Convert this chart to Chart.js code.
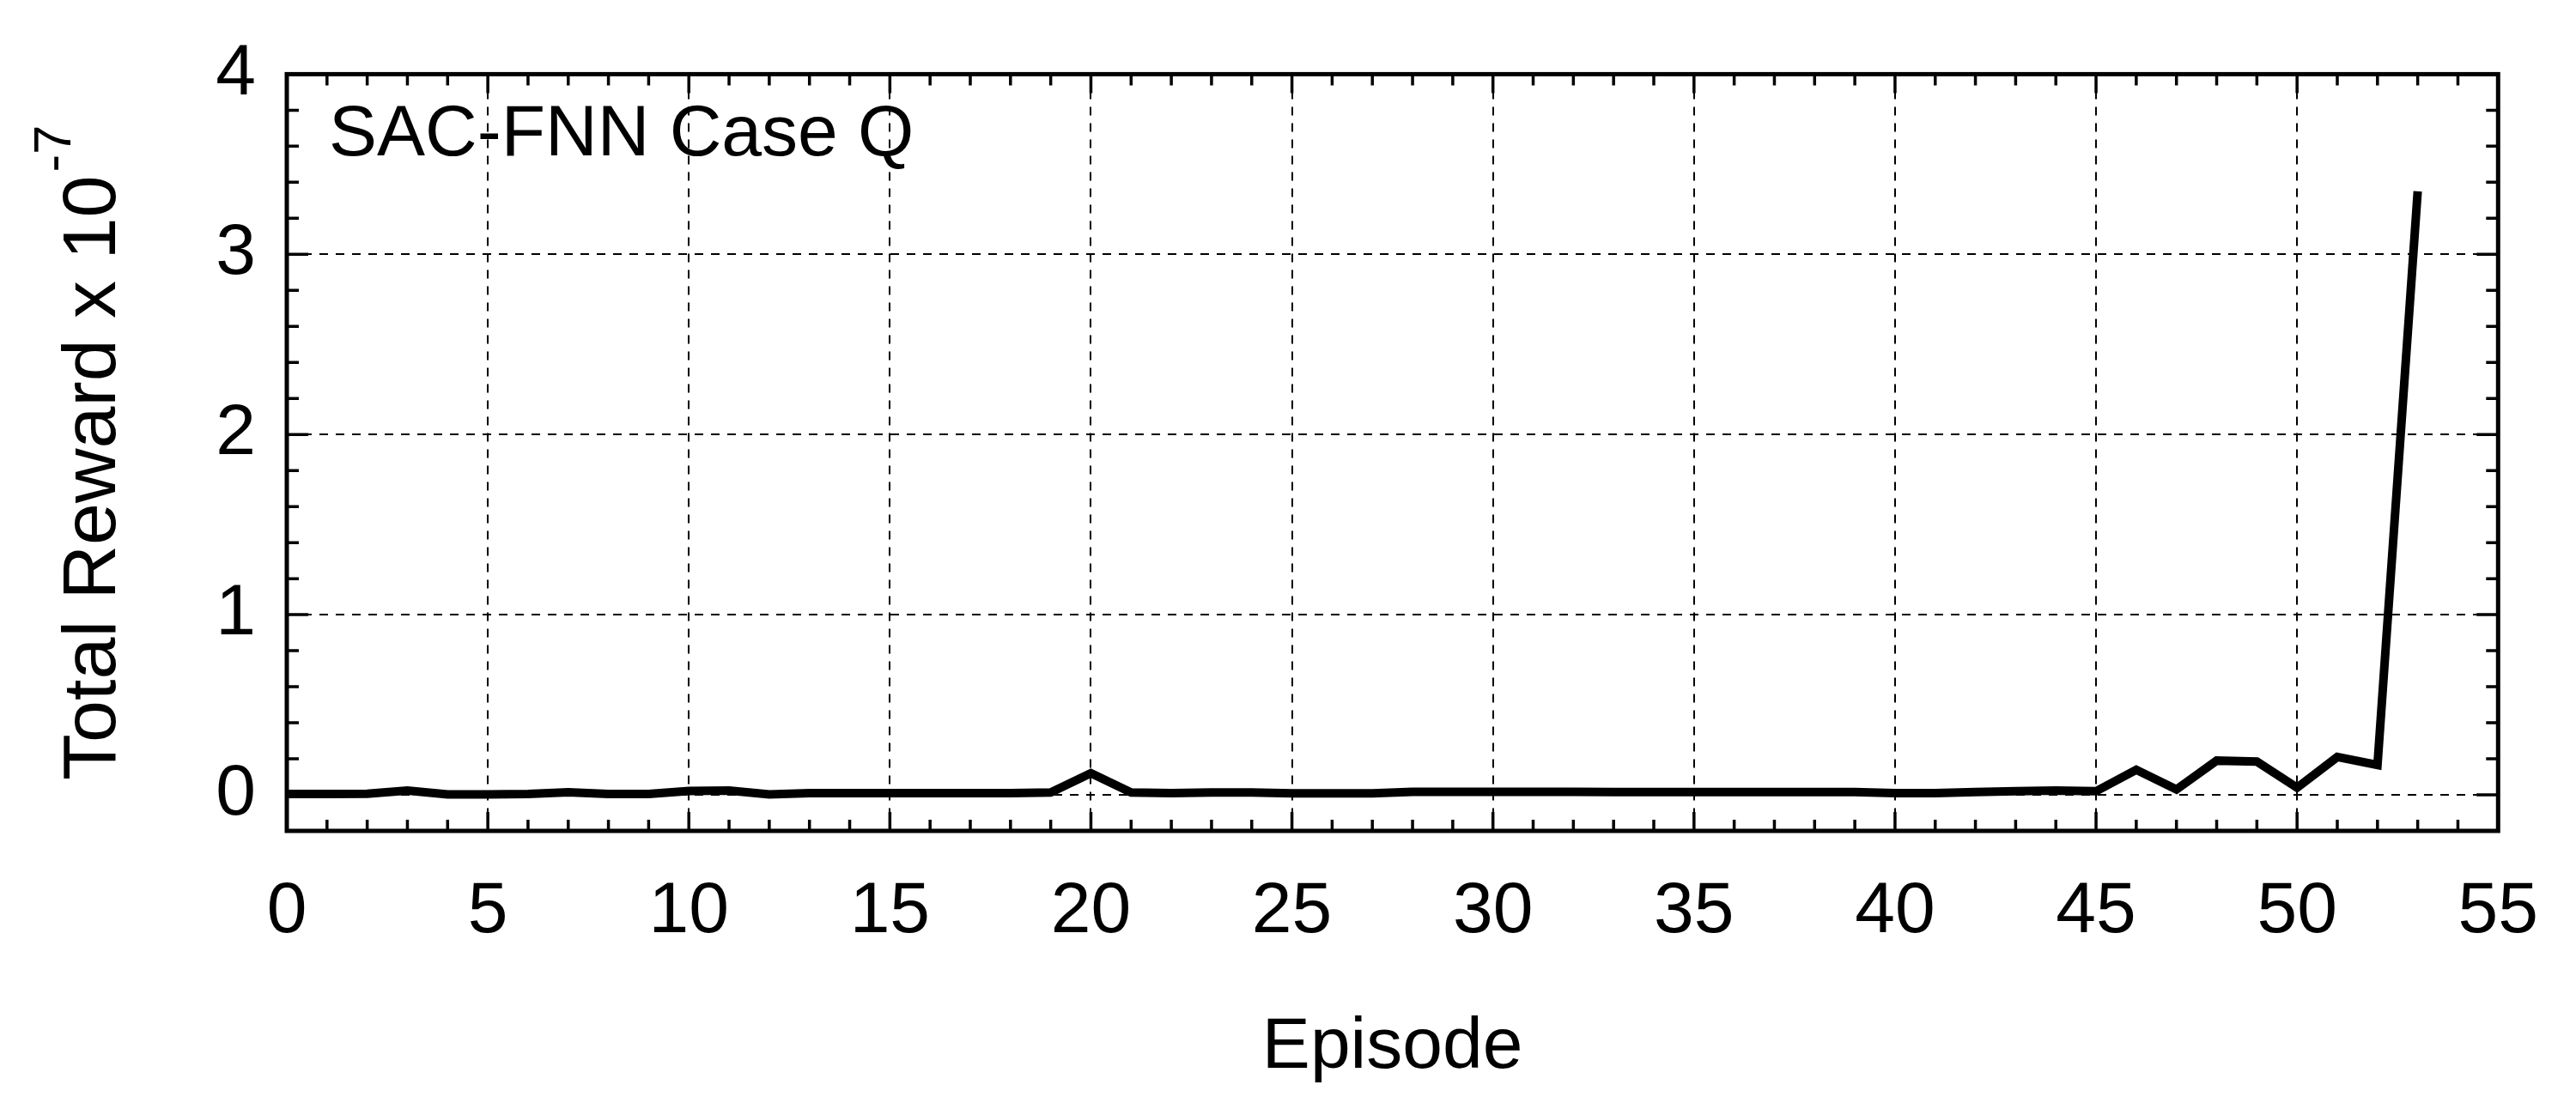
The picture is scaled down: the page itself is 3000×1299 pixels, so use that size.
<!DOCTYPE html>
<html>
<head>
<meta charset="utf-8">
<script src="https://cdn.jsdelivr.net/npm/chart.js@4.4.0/dist/chart.umd.min.js"></script>
<style>
    html, body { margin: 0; padding: 0; background: #fff; }
    #wrap { width: 3000px; height: 1299px; position: relative; }
</style>
</head>
<body>
<div id="wrap"><canvas id="rewardChart"></canvas></div>
<script>
// Data (reward in units of 1e-7)
var episodes = [0, 1, 2, 3, 4, 5, 6, 7, 8, 9, 10, 11, 12, 13, 14, 15, 16, 17, 18, 19,
    20, 21, 22, 23, 24, 25, 26, 27, 28, 29, 30, 31, 32, 33, 34, 35, 36, 37, 38, 39,
    40, 41, 42, 43, 44, 45, 46, 47, 48, 49, 50, 51, 52, 53];
var rewards = [0.005, 0.005, 0.006, 0.024, 0.003, 0.003, 0.005, 0.014, 0.005, 0.005,
    0.022, 0.024, 0.003, 0.010, 0.010, 0.010, 0.010, 0.010, 0.010, 0.013,
    0.120, 0.013, 0.010, 0.013, 0.013, 0.008, 0.008, 0.008, 0.017, 0.017,
    0.017, 0.017, 0.017, 0.016, 0.016, 0.016, 0.016, 0.016, 0.016, 0.016,
    0.010, 0.010, 0.016, 0.020, 0.024, 0.020, 0.139, 0.030, 0.190, 0.185,
    0.040, 0.210, 0.166, 3.35];

var xTicks = [0, 5, 10, 15, 20, 25, 30, 35, 40, 45, 50, 55];
var yTicks = [0, 1, 2, 3, 4];
var xMinorTicks = [1, 2, 3, 4, 6, 7, 8, 9, 11, 12, 13, 14, 16, 17, 18, 19, 21, 22, 23, 24,
    26, 27, 28, 29, 31, 32, 33, 34, 36, 37, 38, 39, 41, 42, 43, 44, 46, 47, 48, 49,
    51, 52, 53, 54];
var yMinorTicks = [0.2, 0.4, 0.6, 0.8, 1.2, 1.4, 1.6, 1.8, 2.2, 2.4, 2.6, 2.8, 3.2, 3.4, 3.6, 3.8];

var titleText = 'SAC-FNN Case Q';
var xTitle = 'Episode';
var yTitle = 'Total Reward x 10';
var yTitleExp = '-7';

var FONT = '"Liberation Sans", Arial, sans-serif';

// frame, inward ticks and texts
var framePlugin = {
    id: 'framePlugin',
    afterDraw: function (chart) {
        var ctx = chart.ctx;
        var a = chart.chartArea;
        var xs = chart.scales.x;
        var ys = chart.scales.y;
        ctx.save();
        ctx.strokeStyle = '#000';
        ctx.fillStyle = '#000';
        ctx.setLineDash([]);

        // x ticks, bottom and top, pointing inwards
        ctx.lineWidth = 3.5;
        xMinorTicks.forEach(function (v) {
            var px = xs.getPixelForValue(v);
            ctx.beginPath();
            ctx.moveTo(px, a.bottom); ctx.lineTo(px, a.bottom - 13);
            ctx.moveTo(px, a.top); ctx.lineTo(px, a.top + 13);
            ctx.stroke();
        });
        xTicks.forEach(function (v) {
            var px = xs.getPixelForValue(v);
            ctx.beginPath();
            ctx.moveTo(px, a.bottom); ctx.lineTo(px, a.bottom - 22);
            ctx.moveTo(px, a.top); ctx.lineTo(px, a.top + 22);
            ctx.stroke();
        });
        // y ticks, left and right
        yMinorTicks.forEach(function (v) {
            var py = ys.getPixelForValue(v);
            ctx.beginPath();
            ctx.moveTo(a.left, py); ctx.lineTo(a.left + 14, py);
            ctx.moveTo(a.right, py); ctx.lineTo(a.right - 14, py);
            ctx.stroke();
        });
        yTicks.forEach(function (v) {
            var py = ys.getPixelForValue(v);
            ctx.beginPath();
            ctx.moveTo(a.left, py); ctx.lineTo(a.left + 25, py);
            ctx.moveTo(a.right, py); ctx.lineTo(a.right - 25, py);
            ctx.stroke();
        });

        // plot box
        ctx.lineWidth = 5;
        ctx.strokeRect(a.left, a.top, a.right - a.left, a.bottom - a.top);

        // label inside the plot
        ctx.font = '84px ' + FONT;
        ctx.textAlign = 'left';
        ctx.textBaseline = 'alphabetic';
        ctx.fillText(titleText, 383, 181);

        // x axis title
        ctx.textAlign = 'center';
        ctx.fillText(xTitle, (a.left + a.right) / 2, 1244);

        // y axis title with superscript
        ctx.translate(134, (a.top + a.bottom) / 2);
        ctx.rotate(-Math.PI / 2);
        ctx.textAlign = 'left';
        ctx.font = '88px ' + FONT;
        var w1 = ctx.measureText(yTitle).width;
        ctx.font = '62px ' + FONT;
        var w2 = ctx.measureText(yTitleExp).width;
        var start = -(w1 + w2 + 4) / 2;
        ctx.font = '88px ' + FONT;
        ctx.fillText(yTitle, start, 0);
        ctx.font = '62px ' + FONT;
        ctx.fillText(yTitleExp, start + w1 + 4, -52);
        ctx.restore();
    }
};

var ctx = document.getElementById('rewardChart').getContext('2d');

new Chart(ctx, {
    type: 'line',
    data: {
        datasets: [{
            label: 'Total Reward',
            data: episodes.map(function (e, i) { return { x: e, y: rewards[i] }; }),
            borderColor: '#000',
            borderWidth: 10,
            borderJoinStyle: 'miter',
            borderCapStyle: 'butt',
            pointRadius: 0,
            tension: 0,
            fill: false
        }]
    },
    options: {
        responsive: true,
        maintainAspectRatio: false,
        animation: false,
        devicePixelRatio: 1,
        layout: {
            padding: { left: 0, right: 83, top: 78, bottom: 0 }
        },
        scales: {
            x: {
                type: 'linear',
                min: 0,
                max: 55,
                afterBuildTicks: function (scale) {
                    scale.ticks = xTicks.map(function (v) { return { value: v }; });
                },
                afterFit: function (scale) { scale.height = 331; },
                grid: {
                    color: '#000',
                    lineWidth: 2,
                    drawTicks: false
                },
                border: { display: false, dash: [10, 9] },
                ticks: {
                    color: '#000',
                    padding: 44,
                    maxRotation: 0,
                    font: { family: FONT, size: 84 }
                }
            },
            y: {
                type: 'linear',
                min: -0.2,
                max: 4,
                afterBuildTicks: function (scale) {
                    scale.ticks = yTicks.map(function (v) { return { value: v }; });
                },
                afterFit: function (scale) { scale.width = 334; },
                grid: {
                    color: '#000',
                    lineWidth: 2,
                    drawTicks: false
                },
                border: { display: false, dash: [10, 9] },
                ticks: {
                    color: '#000',
                    padding: 36,
                    font: { family: FONT, size: 84 }
                }
            }
        },
        plugins: {
            legend: { display: false },
            tooltip: { enabled: false }
        }
    },
    plugins: [framePlugin]
});
</script>
</body>
</html>
